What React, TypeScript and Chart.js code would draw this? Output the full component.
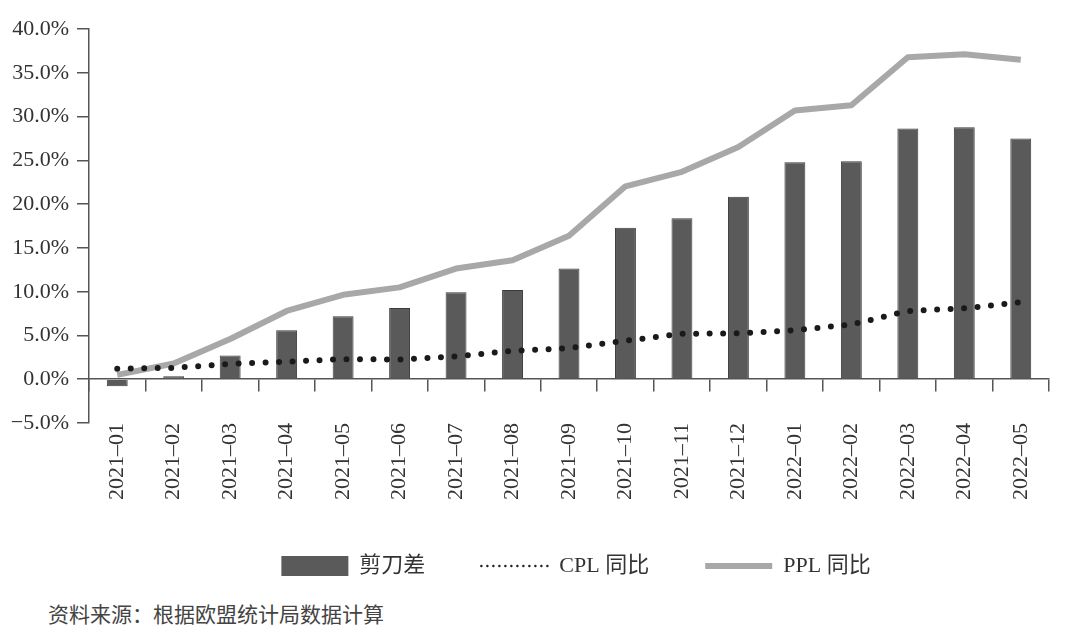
import React, { useEffect, useRef } from 'react';
import { Chart, registerables } from 'chart.js';

Chart.register(...registerables);

// months on the category axis
const months = [
    '2021–01', '2021–02', '2021–03', '2021–04', '2021–05', '2021–06',
    '2021–07', '2021–08', '2021–09', '2021–10', '2021–11', '2021–12',
    '2022–01', '2022–02', '2022–03', '2022–04', '2022–05',
];

// 剪刀差 (PPL - CPL), percent
const scissorGap = [-0.8, 0.35, 2.7, 5.6, 7.2, 8.15, 9.95, 10.2, 12.65, 17.3, 18.4, 20.85, 24.8, 24.9, 28.65, 28.8, 27.5];
// CPL 同比, percent
const cplYoY = [1.2, 1.3, 1.75, 2.0, 2.3, 2.25, 2.6, 3.25, 3.55, 4.4, 5.2, 5.25, 5.6, 6.25, 7.8, 8.1, 8.8];
// PPL 同比, percent
const pplYoY = [0.5, 1.8, 4.6, 7.8, 9.65, 10.5, 12.65, 13.6, 16.4, 22.05, 23.7, 26.55, 30.7, 31.3, 36.8, 37.15, 36.5];

const yMin = -5;
const yMax = 40;
const yStep = 5;

const seriesNames = ['剪刀差', 'CPL 同比', 'PPL 同比'];

const serif = "'Liberation Serif', 'Noto Sans CJK SC', serif";
const axisColor = '#555555';

// moves the legend row a little to the right, like the source
const legendNudge = {
    id: 'legendNudge',
    afterLayout(chart: any) {
        if (chart.legend) {
            chart.legend.left += 7;
            chart.legend.right += 7;
        }
    },
};

const ScissorChart: React.FC = () => {
    const chartRef = useRef<HTMLCanvasElement>(null);
    const chartInstance = useRef<Chart | null>(null);

    useEffect(() => {
        if (chartInstance.current) {
            chartInstance.current.destroy();
        }
        if (chartRef.current) {
            const ctx = chartRef.current.getContext('2d');
            if (ctx) {
                chartInstance.current = new Chart(ctx, {
                    type: 'bar',
                    data: {
                        labels: months,
                        datasets: [
                            {
                                type: 'bar',
                                label: seriesNames[0],
                                data: scissorGap,
                                backgroundColor: '#5a5a5a',
                                borderColor: '#3c3c3c',
                                borderWidth: 1,
                                barPercentage: 0.37,
                                categoryPercentage: 1,
                                order: 2,
                            },
                            {
                                type: 'line',
                                label: seriesNames[1],
                                data: cplYoY,
                                borderColor: '#1a1a1a',
                                backgroundColor: '#1a1a1a',
                                borderWidth: 6,
                                borderDash: [0, 13.5],
                                borderCapStyle: 'round',
                                pointRadius: 0,
                                tension: 0,
                                order: 0,
                            },
                            {
                                type: 'line',
                                label: seriesNames[2],
                                data: pplYoY,
                                borderColor: '#a8a8a8',
                                backgroundColor: '#a8a8a8',
                                borderWidth: 6,
                                borderJoinStyle: 'round',
                                pointRadius: 0,
                                tension: 0,
                                order: 1,
                            },
                        ],
                    },
                    options: {
                        responsive: true,
                        maintainAspectRatio: false,
                        animation: false,
                        events: [],
                        layout: {
                            padding: { top: 16, right: 23, bottom: 13, left: 0 },
                        },
                        plugins: {
                            tooltip: { enabled: false },
                            legend: {
                                position: 'bottom',
                                fullSize: false,
                                labels: {
                                    usePointStyle: true,
                                    pointStyleWidth: 67,
                                    boxHeight: 20,
                                    padding: 56,
                                    color: '#333333',
                                    font: { family: serif, size: 22 },
                                    sort: (a: any, b: any) => a.datasetIndex - b.datasetIndex,
                                    generateLabels: (chart: Chart) => {
                                        const items = Chart.defaults.plugins.legend.labels.generateLabels(chart);
                                        return items.map((item: any) => {
                                            if (item.datasetIndex === 0) {
                                                return { ...item, pointStyle: 'rect', lineWidth: 0, lineDash: [] };
                                            }
                                            if (item.datasetIndex === 1) {
                                                return {
                                                    ...item, pointStyle: 'line', strokeStyle: '#222222',
                                                    lineWidth: 2.5, lineDash: [0, 6], lineCap: 'round',
                                                };
                                            }
                                            return {
                                                ...item, pointStyle: 'line', strokeStyle: '#a8a8a8',
                                                lineWidth: 6, lineDash: [], lineCap: 'butt',
                                            };
                                        });
                                    },
                                },
                            },
                        },
                        scales: {
                            x: {
                                type: 'category',
                                position: 'bottom',
                                offset: true,
                                grid: { display: false, drawTicks: false },
                                border: { display: false },
                                ticks: {
                                    autoSkip: false,
                                    minRotation: 90,
                                    maxRotation: 90,
                                    padding: 0,
                                    color: '#333333',
                                    font: { family: serif, size: 22 },
                                },
                                afterFit: (scale: any) => {
                                    scale.height = 76;
                                },
                            },
                            // the category axis drawn along the 0% line
                            x0: {
                                type: 'category',
                                position: { y: 0 },
                                offset: true,
                                grid: {
                                    offset: true,
                                    drawOnChartArea: false,
                                    drawTicks: true,
                                    tickLength: 12,
                                    color: axisColor,
                                    lineWidth: 1.5,
                                },
                                border: { display: true, color: axisColor, width: 1.5 },
                                ticks: { display: false },
                            },
                            y: {
                                min: yMin,
                                max: yMax,
                                grid: {
                                    drawOnChartArea: false,
                                    drawTicks: true,
                                    tickLength: 12,
                                    color: axisColor,
                                    lineWidth: 1.5,
                                },
                                border: { display: true, color: axisColor, width: 1.5 },
                                ticks: {
                                    stepSize: yStep,
                                    padding: 8,
                                    color: '#333333',
                                    font: { family: serif, size: 22 },
                                    callback: (v: any) => {
                                        const n = Number(v);
                                        return (n < 0 ? '−' : '') + Math.abs(n).toFixed(1) + '%';
                                    },
                                },
                                afterFit: (scale: any) => {
                                    scale.width = 81;
                                },
                            },
                        },
                    },
                    plugins: [legendNudge],
                });
            }
        }
        return () => {
            if (chartInstance.current) {
                chartInstance.current.destroy();
                chartInstance.current = null;
            }
        };
    }, []);

    return <div style={{ position: 'relative', width: '1064px', height: '592px' }}><canvas ref={chartRef} /></div>;
};

export default function App() {
    return (
        <div style={{ width: '1064px' }}>
            <ScissorChart />
            <div
                style={{
                    paddingLeft: '40px',
                    height: '26px',
                    lineHeight: '26px',
                    fontSize: '21px',
                    color: '#444444',
                    fontFamily: "'Noto Sans CJK SC', sans-serif",
                }}
            >
                资料来源：根据欧盟统计局数据计算
            </div>
        </div>
    );
}
